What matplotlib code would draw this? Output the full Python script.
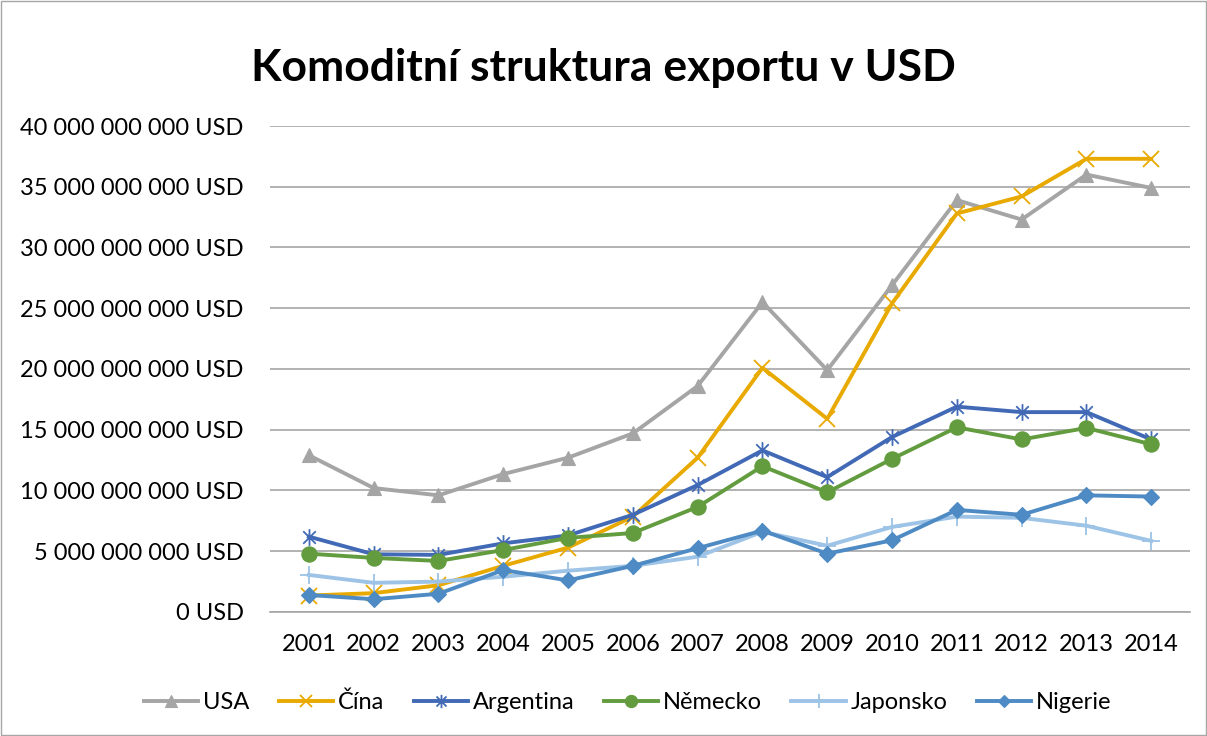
import matplotlib.pyplot as plt
from matplotlib.ticker import FuncFormatter, MultipleLocator
from matplotlib.path import Path
import matplotlib.patches as patches

plt.rcParams['font.family'] = ['Lato', 'DejaVu Sans']

years = ['2001', '2002', '2003', '2004', '2005', '2006', '2007',
         '2008', '2009', '2010', '2011', '2012', '2013', '2014']

# hodnoty v miliardách USD
usa = [12.9, 10.2, 9.6, 11.35, 12.7, 14.7, 18.6, 25.5, 19.9, 26.9, 33.9, 32.3, 36.0, 34.9]
cina = [1.35, 1.55, 2.2, 3.8, 5.3, 7.85, 12.7, 20.1, 15.9, 25.4, 32.8, 34.2, 37.3, 37.3]
argentina = [6.2, 4.75, 4.7, 5.65, 6.3, 8.0, 10.45, 13.3, 11.1, 14.4, 16.9, 16.45, 16.45, 14.2]
nemecko = [4.8, 4.45, 4.2, 5.1, 6.1, 6.5, 8.65, 12.0, 9.85, 12.6, 15.2, 14.2, 15.15, 13.8]
japonsko = [3.05, 2.4, 2.5, 2.9, 3.4, 3.8, 4.55, 6.6, 5.45, 7.0, 7.85, 7.75, 7.1, 5.85]
nigerie = [1.4, 1.05, 1.5, 3.45, 2.6, 3.8, 5.25, 6.7, 4.8, 5.9, 8.4, 8.0, 9.6, 9.5]

# hvězdička jako v Excelu: křížek + svislá čára
star = Path([(0, -1), (0, 1), (-0.75, -0.75), (0.75, 0.75), (-0.75, 0.75), (0.75, -0.75)],
            [Path.MOVETO, Path.LINETO, Path.MOVETO, Path.LINETO, Path.MOVETO, Path.LINETO])

series = [
    ('USA', usa, '#A5A5A5', '^', 10),
    ('Čína', cina, '#E8A900', 'x', 11),
    ('Argentina', argentina, '#4169B5', star, 12),
    ('Německo', nemecko, '#639C3F', 'o', 11),
    ('Japonsko', japonsko, '#9DC3E6', '+', 13),
    ('Nigerie', nigerie, '#4E8BC4', 'D', 8),
]

fig = plt.figure(figsize=(12.07, 7.36), dpi=100, facecolor='white')
ax = fig.add_axes([0.2237, 0.1685, 0.7623, 0.6603])

x = range(len(years))
for name, vals, col, mk, ms in series:
    thin = mk in ('x', '+') or mk is star
    ax.plot(x, [v * 1e9 for v in vals], color=col, lw=2.8, marker=mk,
            markersize=ms, markeredgewidth=1.3 if thin else 0.8,
            markerfacecolor='none' if mk is star else col,
            label=name, zorder=3)

ax.set_xlim(-0.6, len(years) - 0.4)
ax.set_ylim(0, 40e9)
ax.yaxis.set_major_locator(MultipleLocator(5e9))

def fmt(v, pos):
    return '{:,.0f} USD'.format(v).replace(',', ' ')

ax.yaxis.set_major_formatter(FuncFormatter(fmt))
ax.set_xticks(list(x))
ax.set_xticklabels(years)
ax.grid(axis='y', color='#A6A6A6', lw=1.2, zorder=0)
for s in ['top', 'right', 'left']:
    ax.spines[s].set_visible(False)
ax.spines['bottom'].set_color('#A6A6A6')
ax.spines['bottom'].set_linewidth(1.2)
ax.tick_params(axis='y', length=0, labelsize=17, pad=19)
ax.tick_params(axis='x', length=0, labelsize=17, pad=16)

fig.text(0.5, 0.907, 'Komoditní struktura exportu v USD', ha='center', va='center',
         fontsize=32, fontweight='bold')

leg = fig.legend(loc='center', bbox_to_anchor=(0.52, 0.046), ncol=6, frameon=False,
                 fontsize=17, handlelength=2.3, columnspacing=1.25, handletextpad=0.2,
                 markerscale=0.8)

fig.patches.append(patches.Rectangle((0.001, 0.001), 0.998, 0.998, transform=fig.transFigure,
                                     fill=False, edgecolor='#A6A6A6', lw=1))

plt.savefig('out.png', dpi=100)
